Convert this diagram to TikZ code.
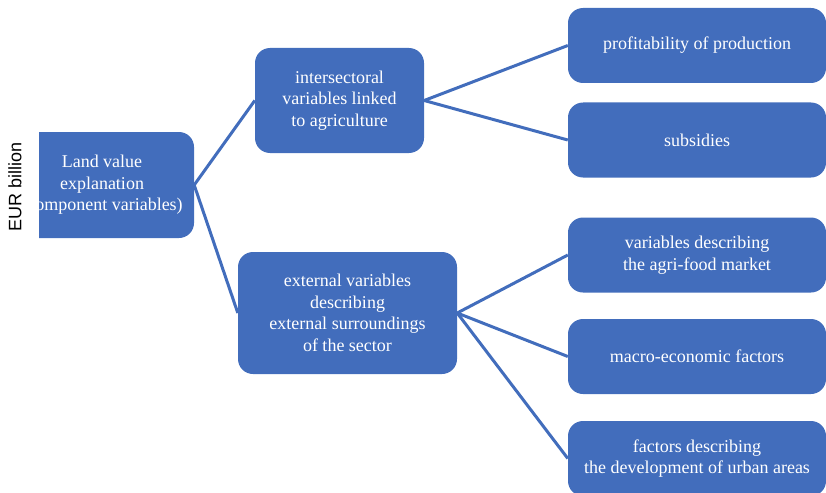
\documentclass[tikz,border=0pt]{standalone}
\usepackage{fontspec}
\setmainfont{Liberation Serif}
\newfontfamily\axisfont{Liberation Sans}
\usetikzlibrary{positioning}
\definecolor{boxblue}{RGB}{66,109,188}
\begin{document}
\begin{tikzpicture}[
    x=1pt, y=-1pt,
    box/.style={rectangle, rounded corners=15pt, fill=boxblue, text=white, align=center, inner sep=0pt, font=\fontsize{18}{21.5}\selectfont},
    leaf/.style={box, minimum width=258pt, minimum height=75pt},
    link/.style={boxblue, line width=3pt}
]
\useasboundingbox (0,0) rectangle (826,492);

% Root (cut on the left)
\begin{scope}
\clip (39,0) rectangle (826,492);
\node[box, minimum width=184pt, minimum height=106pt] (land) at (102,185) {Land value\\explanation\\(component variables)};
\end{scope}
\node[rotate=90, font=\axisfont\fontsize{18}{21}\selectfont] (axis) at (15,187) {EUR billion};

% Middle level
\node[box, minimum width=169pt, minimum height=105pt] (inter) at (339.5,100.5) {intersectoral\\variables linked\\to agriculture};
\node[box, minimum width=219pt, minimum height=122pt] (ext) at (347.5,313) {external variables\\describing\\external surroundings\\of the sector};

% Right level
\node[leaf] (profit) at (697,45.5) {profitability of production};
\node[leaf] (subs) at (697,140) {subsidies};
\node[leaf] (agri) at (697,255) {variables describing\\the agri-food market};
\node[leaf] (macro) at (697,356.5) {macro-economic factors};
\node[leaf] (urban) at (697,458.5) {factors describing\\the development of urban areas};

% Links
\draw[link] (land.east) -- (inter.west);
\draw[link] (land.east) -- (ext.west);
\draw[link] (inter.east) -- (profit.west);
\draw[link] (inter.east) -- (subs.west);
\draw[link] (ext.east) -- (agri.west);
\draw[link] (ext.east) -- (macro.west);
\draw[link] (ext.east) -- (urban.west);

\end{tikzpicture}
\end{document}
